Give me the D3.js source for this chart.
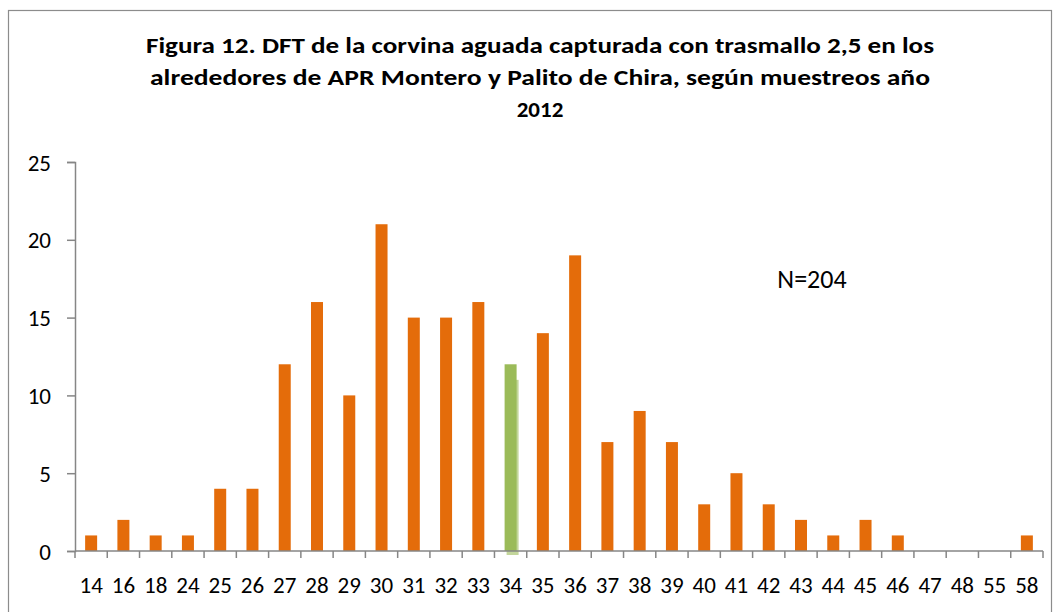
<!DOCTYPE html>
<html>
<head>
<meta charset="utf-8">
<script src="https://cdn.jsdelivr.net/npm/d3@7"></script>
<style>
  body { margin: 0; background: #fff; }
  svg { font-family: Carlito, Calibri, "Liberation Sans", "Open Sans", sans-serif; }
</style>
</head>
<body>
<div id="chart"></div>
<script>
const sizes = ["14","16","18","24","25","26","27","28","29","30","31","32","33","34","35","36","37","38","39","40","41","42","43","44","45","46","47","48","55","58"];
const counts = [1,2,1,1,4,4,12,16,10,21,15,15,16,12,14,19,7,9,7,3,5,3,2,1,2,1,0,0,0,1];
const highlight = "34"; // bar drawn in green
const shadowValue = 11; // faint ghost behind the green bar
const yTicks = [0, 5, 10, 15, 20, 25];
const titleLines = [
    "Figura 12. DFT  de la  corvina aguada capturada con trasmallo 2,5 en los",
    "alrededores de APR Montero y Palito  de Chira, según muestreos  año",
    "2012"
];
const note = "N=204";

const width = 1060, height = 612;
const margin = { top: 162, right: 17, bottom: 61, left: 75 };

const svg = d3.select("#chart").append("svg")
    .attr("width", width)
    .attr("height", height);

// chart frame
svg.append("rect")
    .attr("x", 8.5).attr("y", 10.5)
    .attr("width", 1043).attr("height", 620)
    .attr("fill", "none").attr("stroke", "#8c8c8c").attr("stroke-width", 1.2);

const x = d3.scaleBand()
    .domain(sizes)
    .range([margin.left, width - margin.right]);

const y = d3.scaleLinear()
    .domain([0, 25])
    .range([height - margin.bottom, margin.top]);

const barW = 12;

svg.append("rect")
    .attr("x", x(highlight) + x.bandwidth() / 2 - barW / 2 + 2)
    .attr("y", y(shadowValue))
    .attr("width", barW)
    .attr("height", y(0) - y(shadowValue) + 4)
    .attr("fill", "#c3d69b");

svg.append("g")
    .selectAll("rect")
    .data(sizes.map((s, i) => ({ size: s, value: counts[i] })))
    .join("rect")
    .attr("x", d => x(d.size) + x.bandwidth() / 2 - barW / 2)
    .attr("y", d => y(d.value))
    .attr("width", barW)
    .attr("height", d => y(0) - y(d.value))
    .attr("fill", d => d.size === highlight ? "#9bbb59" : "#e46c0a");

// y axis
const yAxis = svg.append("g")
    .attr("transform", `translate(${margin.left},0)`)
    .call(d3.axisLeft(y).tickValues(yTicks).tickSize(8).tickPadding(16))
    .attr("font-family", null)
    .attr("font-size", null);
yAxis.selectAll("text").attr("font-size", 23).attr("fill", "#000").attr("dy", "0.35em");
yAxis.selectAll("line, path").attr("stroke", "#868686").attr("stroke-width", 1.5);

// x axis: ticks sit between categories
const xAxis = svg.append("g")
    .attr("transform", `translate(0,${y(0)})`);
xAxis.append("line")
    .attr("x1", margin.left).attr("x2", width - margin.right)
    .attr("stroke", "#868686").attr("stroke-width", 1.5);
xAxis.selectAll(".tk")
    .data([null].concat(sizes))
    .join("line")
    .attr("class", "tk")
    .attr("x1", d => d === null ? margin.left : x(d) + x.bandwidth())
    .attr("x2", d => d === null ? margin.left : x(d) + x.bandwidth())
    .attr("y1", 0).attr("y2", 7)
    .attr("stroke", "#868686").attr("stroke-width", 1.5);
xAxis.selectAll("text")
    .data(sizes)
    .join("text")
    .attr("x", d => x(d) + x.bandwidth() / 2)
    .attr("y", 42)
    .attr("text-anchor", "middle")
    .attr("font-size", 23)
    .text(d => d);

// title
const titleWidths = [788, 780, null];
svg.append("g")
    .selectAll("text")
    .data(titleLines)
    .join("text")
    .attr("x", 540)
    .attr("y", (d, i) => 53 + i * 32)
    .attr("text-anchor", "middle")
    .attr("font-size", 23)
    .attr("font-weight", "bold")
    .attr("textLength", (d, i) => titleWidths[i])
    .attr("lengthAdjust", "spacingAndGlyphs")
    .text(d => d);

svg.append("text")
    .attr("x", 812).attr("y", 288)
    .attr("text-anchor", "middle")
    .attr("font-size", 26)
    .text(note);
</script>
</body>
</html>
